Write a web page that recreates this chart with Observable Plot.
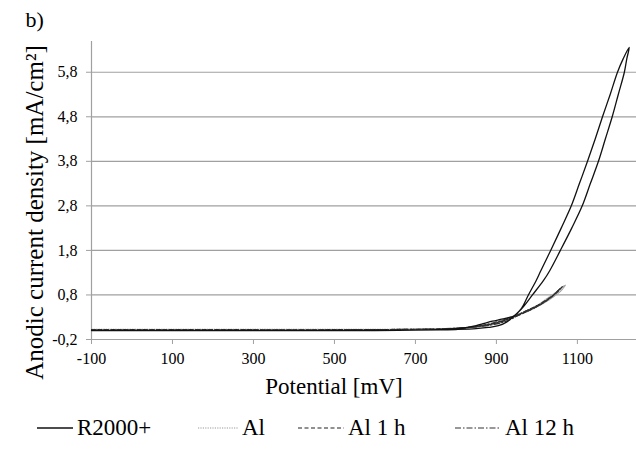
<!DOCTYPE html>
<html><head><meta charset="utf-8">
<script src="https://cdn.jsdelivr.net/npm/d3@7"></script>
<script src="https://cdn.jsdelivr.net/npm/@observablehq/plot@0.6"></script>
<style>
body{margin:0;background:#fff;}
#wrap{position:relative;width:636px;height:452px;font-family:"Liberation Serif","Times New Roman",serif;}
#legend{position:absolute;left:0;top:410px;width:636px;height:42px;}
.item{position:absolute;top:0;height:36px;display:flex;align-items:center;font-size:23px;color:#000;white-space:nowrap;}
.item svg{margin-right:4px;}
</style></head><body><div id="wrap"><div id="chart"></div><div id="legend"></div></div>
<script>
// Axis ticks
const potentialTicks = [-100, 100, 300, 500, 700, 900, 1100];
const currentTicks = [-0.2, 0.8, 1.8, 2.8, 3.8, 4.8, 5.8];

// Series names
const seriesNames = ["R2000+", "Al", "Al 1 h", "Al 12 h"];

// R2000+ : forward scan then reverse scan (potential mV, current mA/cm2)
const r2000Potential = [-100, 0, 200, 400, 600, 700, 760, 800, 850, 880, 905, 925, 945, 962, 979, 998, 1010, 1034, 1060, 1085, 1105, 1125, 1144, 1162, 1181, 1199, 1213, 1228,
  1222, 1216, 1201, 1186, 1169, 1152, 1132, 1112, 1086, 1058, 1032, 1016, 989, 968, 955, 945, 930, 910, 890, 870, 850, 820, 780, 700, 600];
const r2000Current = [0.0, 0.0, 0.0, 0.0, 0.005, 0.01, 0.015, 0.025, 0.045, 0.07, 0.11, 0.19, 0.34, 0.5, 0.8, 1.12, 1.35, 1.8, 2.3, 2.8, 3.3, 3.8, 4.3, 4.8, 5.3, 5.8, 6.1, 6.36,
  6.1, 5.8, 5.3, 4.8, 4.3, 3.8, 3.3, 2.8, 2.3, 1.8, 1.35, 1.12, 0.8, 0.55, 0.42, 0.34, 0.29, 0.25, 0.21, 0.16, 0.11, 0.06, 0.03, 0.01, 0.0];

// Al
const alPotential = [-100, 200, 500, 700, 800, 850, 900, 930, 950, 975, 1000, 1025, 1050, 1070,
  1060, 1035, 1010, 985, 960, 935, 910, 880, 840, 780];
const alCurrent = [0.03, 0.03, 0.03, 0.035, 0.05, 0.08, 0.15, 0.24, 0.33, 0.44, 0.56, 0.72, 0.88, 1.02,
  0.9, 0.72, 0.58, 0.46, 0.37, 0.28, 0.2, 0.13, 0.07, 0.04];

// Al 1 h
const al1Potential = [-100, 200, 500, 700, 800, 850, 900, 930, 950, 980, 1010, 1040, 1063,
  1050, 1025, 1000, 975, 950, 925, 900, 870, 830, 770];
const al1Current = [0.02, 0.02, 0.02, 0.03, 0.05, 0.09, 0.17, 0.26, 0.34, 0.47, 0.61, 0.79, 0.99,
  0.86, 0.68, 0.54, 0.43, 0.33, 0.25, 0.18, 0.12, 0.07, 0.04];

// Al 12 h
const al12Potential = [-100, 200, 500, 700, 800, 850, 900, 930, 950, 980, 1010, 1035, 1058,
  1045, 1020, 995, 970, 945, 920, 895, 865, 825, 760];
const al12Current = [0.02, 0.02, 0.02, 0.03, 0.05, 0.08, 0.15, 0.23, 0.32, 0.45, 0.59, 0.75, 0.95,
  0.83, 0.66, 0.53, 0.43, 0.33, 0.25, 0.18, 0.12, 0.07, 0.04];

const toRows = (ps, cs) => ps.map((p, i) => ({potential: p, current: cs[i]}));
const r2000 = toRows(r2000Potential, r2000Current);
const al = toRows(alPotential, alCurrent);
const al1 = toRows(al1Potential, al1Current);
const al12 = toRows(al12Potential, al12Current);

const styles = {
  "R2000+": {stroke: "#111", strokeWidth: 1.3, dash: null},
  "Al": {stroke: "#9a9a9a", strokeWidth: 1.1, dash: "1.2,1.2"},
  "Al 1 h": {stroke: "#222", strokeWidth: 1.2, dash: "4,2.5"},
  "Al 12 h": {stroke: "#333", strokeWidth: 1.1, dash: "6,2,1.5,2"}
};

const fmt = d => d.toFixed(1).replace(".", ",");
const grid = "#a0a0a0";

const chart = Plot.plot({
  width: 636,
  height: 410,
  marginLeft: 91,
  marginRight: 0,
  marginTop: 41,
  marginBottom: 71,
  x: {domain: [-100, 1246]},
  y: {domain: [-0.2, 6.49]},
  style: {fontFamily: '"Liberation Serif", "Times New Roman", serif', background: "white", color: "black", overflow: "visible"},
  marks: [
    Plot.ruleY(currentTicks, {stroke: grid, strokeWidth: 1.2}),
    Plot.ruleX([-100], {stroke: grid, strokeWidth: 1.2}),
    Plot.axisY({ticks: currentTicks, tickFormat: fmt, tickSize: 5, tickPadding: 9, stroke: grid, fill: "black", fontSize: 16, label: null}),
    Plot.axisX({ticks: potentialTicks, tickFormat: d => String(d), tickSize: 5, tickPadding: 8, stroke: grid, fill: "black", fontSize: 16, label: null}),
    Plot.line(al, {x: "potential", y: "current", stroke: styles["Al"].stroke, strokeWidth: styles["Al"].strokeWidth, strokeDasharray: styles["Al"].dash, curve: "catmull-rom"}),
    Plot.line(al1, {x: "potential", y: "current", stroke: styles["Al 1 h"].stroke, strokeWidth: styles["Al 1 h"].strokeWidth, strokeDasharray: styles["Al 1 h"].dash, curve: "catmull-rom"}),
    Plot.line(al12, {x: "potential", y: "current", stroke: styles["Al 12 h"].stroke, strokeWidth: styles["Al 12 h"].strokeWidth, strokeDasharray: styles["Al 12 h"].dash, curve: "catmull-rom"}),
    Plot.line(r2000, {x: "potential", y: "current", stroke: styles["R2000+"].stroke, strokeWidth: styles["R2000+"].strokeWidth, curve: "catmull-rom"}),
    Plot.text(["Anodic current density [mA/cm²]"], {frameAnchor: "left", dx: -57, dy: 22, rotate: -90, fontSize: 25, fill: "black", textAnchor: "middle", lineAnchor: "middle"}),
    Plot.text(["Potential [mV]"], {frameAnchor: "bottom", dx: -30, dy: 47, fontSize: 23, fill: "black", textAnchor: "middle", lineAnchor: "middle"}),
    Plot.text(["b)"], {frameAnchor: "top-left", dx: -66, dy: -30, fontSize: 22, fill: "black", textAnchor: "start", lineAnchor: "top"})
  ]
});
document.getElementById("chart").appendChild(chart);

// Legend
const legendPos = {"R2000+": 37, "Al": 198, "Al 1 h": 298, "Al 12 h": 455};
const legendLen = {"R2000+": 36, "Al": 40, "Al 1 h": 46, "Al 12 h": 46};
const legend = document.getElementById("legend");
for (const name of seriesNames) {
  const s = styles[name];
  const div = document.createElement("div");
  div.className = "item";
  div.style.left = legendPos[name] + "px";
  const len = legendLen[name];
  div.innerHTML = `<svg width="${len}" height="10"><line x1="0" x2="${len}" y1="5" y2="5" stroke="${s.stroke}" stroke-width="${name === "R2000+" ? 1.4 : 1.2}" ${s.dash ? `stroke-dasharray="${s.dash}"` : ""}/></svg><span>${name}</span>`;
  legend.appendChild(div);
}
</script></body></html>
